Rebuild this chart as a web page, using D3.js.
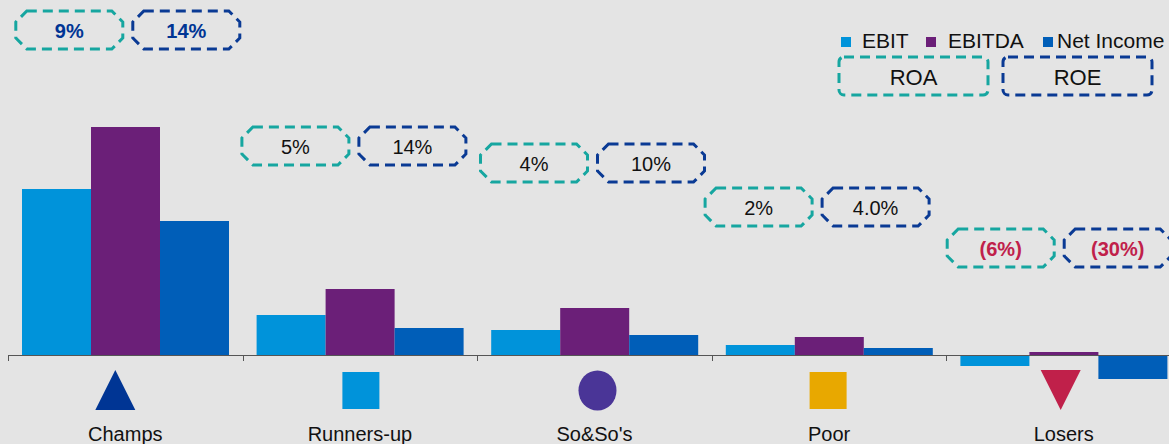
<!DOCTYPE html>
<html lang="en">
<head>
    <meta charset="UTF-8">
    <title>Profitability by group</title>
    <script src="https://cdnjs.cloudflare.com/ajax/libs/d3/7.8.5/d3.min.js"></script>
    <style>
        html, body { margin: 0; padding: 0; background: #e4e4e4; }
        body { font-family: "Liberation Sans", Arial, sans-serif; }
        svg { display: block; }
    </style>
</head>
<body>
    <div id="chart"></div>

    <script>
    // Chart data
    const categories = ["Champs", "Runners-up", "So&So's", "Poor", "Losers"];
    const seriesNames = ["EBIT", "EBITDA", "Net Income"];
    const ebit      = [16.6, 4.0, 2.5, 1.0, -1.1];
    const ebitda    = [22.8, 6.6, 4.7, 1.8, 0.3];
    const netIncome = [13.4, 2.7, 2.0, 0.7, -2.4];
    const roaLabels = ["9%", "5%", "4%", "2%", "(6%)"];
    const roeLabels = ["14%", "14%", "10%", "4.0%", "(30%)"];

    // Styling / layout helpers
    const seriesColors = ["#0093da", "#6b1f78", "#005eb8"];
    const roaColor = "#16a6a0";
    const roeColor = "#0a3a94";
    const icons = [
        {shape: "up", color: "#003594", dx: -10},
        {shape: "square", color: "#0093da", dx: 1},
        {shape: "circle", color: "#4a3597", dx: 3},
        {shape: "square", color: "#e8a800", dx: -1},
        {shape: "down", color: "#c0204a", dx: -3}
    ];
    const labelStyle = [
        {color: "#003594", weight: "bold"},
        {color: "#111", weight: "normal"},
        {color: "#111", weight: "normal"},
        {color: "#111", weight: "normal"},
        {color: "#c0204a", weight: "bold"}
    ];
    const boxTop = [11, 127, 144, 188, 229];
    const boxShift = [2.5, -6, -2, -12, -4.5];

    const W = 1169, H = 444;
    const svg = d3.select("#chart").append("svg")
        .attr("width", W).attr("height", H);

    svg.append("rect").attr("width", W).attr("height", H).attr("fill", "#e4e4e4");

    const x = d3.scaleBand()
        .domain(categories)
        .range([8, 8 + 5 * 234.6]);

    const xs = d3.scaleBand()
        .domain(seriesNames)
        .range([14, 221]);

    const y = d3.scaleLinear()
        .domain([0, 22.8])
        .range([355, 127]);

    const rows = categories.map((c, i) => ({
        cat: c,
        values: [ebit[i], ebitda[i], netIncome[i]]
    }));

    // Bars
    const groups = svg.selectAll(".grp")
        .data(rows)
        .enter().append("g")
        .attr("class", "grp")
        .attr("transform", d => `translate(${x(d.cat)},0)`);

    groups.selectAll("rect")
        .data(d => d.values.map((v, k) => ({name: seriesNames[k], v: v, k: k})))
        .enter().append("rect")
        .attr("x", d => xs(d.name))
        .attr("width", xs.bandwidth())
        .attr("y", d => Math.min(y(d.v), y(0)))
        .attr("height", d => Math.abs(y(d.v) - y(0)))
        .attr("fill", d => seriesColors[d.k]);

    // Axis line with ticks at category boundaries
    svg.append("line")
        .attr("x1", x.range()[0]).attr("x2", x.range()[1])
        .attr("y1", y(0) + 0.5).attr("y2", y(0) + 0.5)
        .attr("stroke", "#555").attr("stroke-width", 1);

    svg.selectAll(".tick")
        .data(categories)
        .enter().append("line")
        .attr("x1", d => Math.round(x(d)) + 0.5)
        .attr("x2", d => Math.round(x(d)) + 0.5)
        .attr("y1", y(0)).attr("y2", y(0) + 6)
        .attr("stroke", "#555").attr("stroke-width", 1);

    // Category icons
    categories.forEach((c, i) => {
        const cx = x(c) + x.bandwidth() / 2 + icons[i].dx;
        const ic = icons[i];
        if (ic.shape === "up") {
            svg.append("path")
                .attr("d", `M${cx},370 L${cx + 20},410 L${cx - 20},410 Z`)
                .attr("fill", ic.color);
        } else if (ic.shape === "down") {
            svg.append("path")
                .attr("d", `M${cx - 20},370 L${cx + 20},370 L${cx},410 Z`)
                .attr("fill", ic.color);
        } else if (ic.shape === "square") {
            svg.append("rect")
                .attr("x", cx - 18.5).attr("y", 372)
                .attr("width", 37).attr("height", 37)
                .attr("fill", ic.color);
        } else {
            svg.append("ellipse")
                .attr("cx", cx).attr("cy", 390.5)
                .attr("rx", 19).attr("ry", 20)
                .attr("fill", ic.color);
        }
    });

    // Category labels
    svg.selectAll(".cat-label")
        .data(categories)
        .enter().append("text")
        .attr("class", "cat-label")
        .attr("x", d => x(d) + x.bandwidth() / 2)
        .attr("y", 441)
        .attr("text-anchor", "middle")
        .attr("font-size", 20)
        .attr("fill", "#111")
        .text(d => d);

    // Octagon ratio boxes
    function octagon(x0, y0, w, h, c) {
        return `M${x0 + c},${y0} L${x0 + w - c},${y0} L${x0 + w},${y0 + c} ` +
               `L${x0 + w},${y0 + h - c} L${x0 + w - c},${y0 + h} L${x0 + c},${y0 + h} ` +
               `L${x0},${y0 + h - c} L${x0},${y0 + c} Z`;
    }

    const bw = 107, bh = 38, gap = 10;
    categories.forEach((c, i) => {
        const mid = x(c) + x.bandwidth() / 2 + boxShift[i];
        const left = [mid - gap / 2 - bw, mid + gap / 2];
        const labels = [roaLabels[i], roeLabels[i]];
        const strokes = [roaColor, roeColor];
        left.forEach((lx, j) => {
            svg.append("path")
                .attr("d", octagon(lx, boxTop[i], bw, bh, 11))
                .attr("fill", "none")
                .attr("stroke", strokes[j])
                .attr("stroke-width", 3)
                .attr("stroke-dasharray", "10,6");
            svg.append("text")
                .attr("x", lx + bw / 2)
                .attr("y", boxTop[i] + 27)
                .attr("text-anchor", "middle")
                .attr("font-size", 20)
                .attr("font-weight", labelStyle[i].weight)
                .attr("fill", labelStyle[i].color)
                .text(labels[j]);
        });
    });

    // Legend
    const legendX = [841, 926, 1043];
    const legendTextX = [862, 948, 1057];
    seriesNames.forEach((s, k) => {
        svg.append("rect")
            .attr("x", legendX[k]).attr("y", 37)
            .attr("width", 10).attr("height", 10)
            .attr("fill", seriesColors[k]);
        svg.append("text")
            .attr("x", legendTextX[k]).attr("y", 48)
            .attr("font-size", 21)
            .attr("fill", "#111")
            .text(s);
    });

    // ROA / ROE legend boxes
    const legendBoxes = [
        {label: "ROA", x: 839, color: roaColor},
        {label: "ROE", x: 1003, color: roeColor}
    ];
    legendBoxes.forEach(b => {
        svg.append("rect")
            .attr("x", b.x).attr("y", 57)
            .attr("width", 149).attr("height", 38)
            .attr("rx", 5)
            .attr("fill", "none")
            .attr("stroke", b.color)
            .attr("stroke-width", 3)
            .attr("stroke-dasharray", "10,6");
        svg.append("text")
            .attr("x", b.x + 74.5).attr("y", 85)
            .attr("text-anchor", "middle")
            .attr("font-size", 22)
            .attr("fill", "#111")
            .text(b.label);
    });
    </script>
</body>
</html>
